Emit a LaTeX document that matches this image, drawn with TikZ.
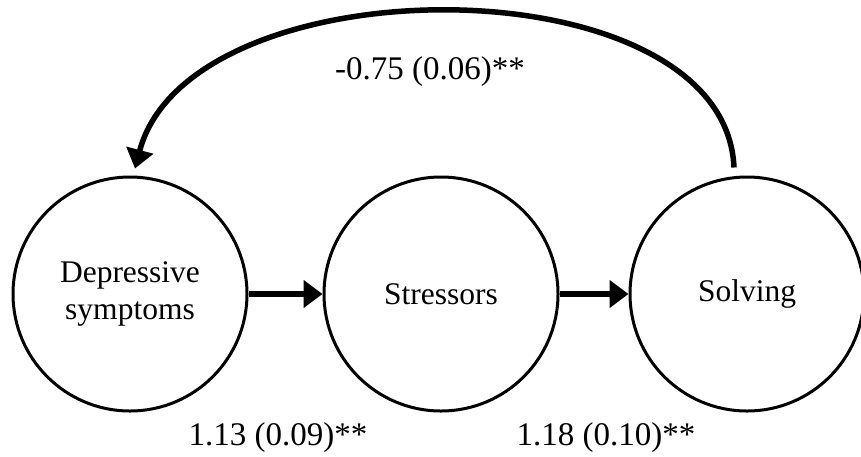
\documentclass[tikz,border=0pt]{standalone}
\usepackage{fontspec}
\setmainfont{Liberation Serif}
\usetikzlibrary{arrows.meta}
\begin{document}
\begin{tikzpicture}[x=1pt,y=-1pt,
  var/.style={circle,draw,line width=3pt,minimum size=234pt,inner sep=0pt,
    font=\fontsize{31.5}{37}\selectfont,align=center},
  path/.style={line width=5.5pt,-{Triangle[length=19pt,width=27pt]}},
  coef/.style={font=\fontsize{33}{38}\selectfont,inner sep=0pt}]
\useasboundingbox (0,0) rectangle (861,456);
\node[var] (dep) at (130,294) {Depressive\\symptoms};
\node[var] (str) at (441,294) {Stressors};
\node[var] (sol) at (747,294) {Solving};
\draw[path] (dep.east) -- (str.west);
\draw[path] (str.east) -- (sol.west);
\coordinate (cs) at ([shift={(-13,-8)}]sol.north);
\coordinate (ce) at ([shift={(5,-7)}]dep.north);
\draw[path] (cs) .. controls (725,-40) and (190,-40) .. (ce);
\node[coef] (c1) at (430,72) {-0.75 (0.06)**};
\node[coef] (c2) at (278,438) {1.13 (0.09)**};
\node[coef] (c3) at (606,438) {1.18 (0.10)**};
\end{tikzpicture}
\end{document}
